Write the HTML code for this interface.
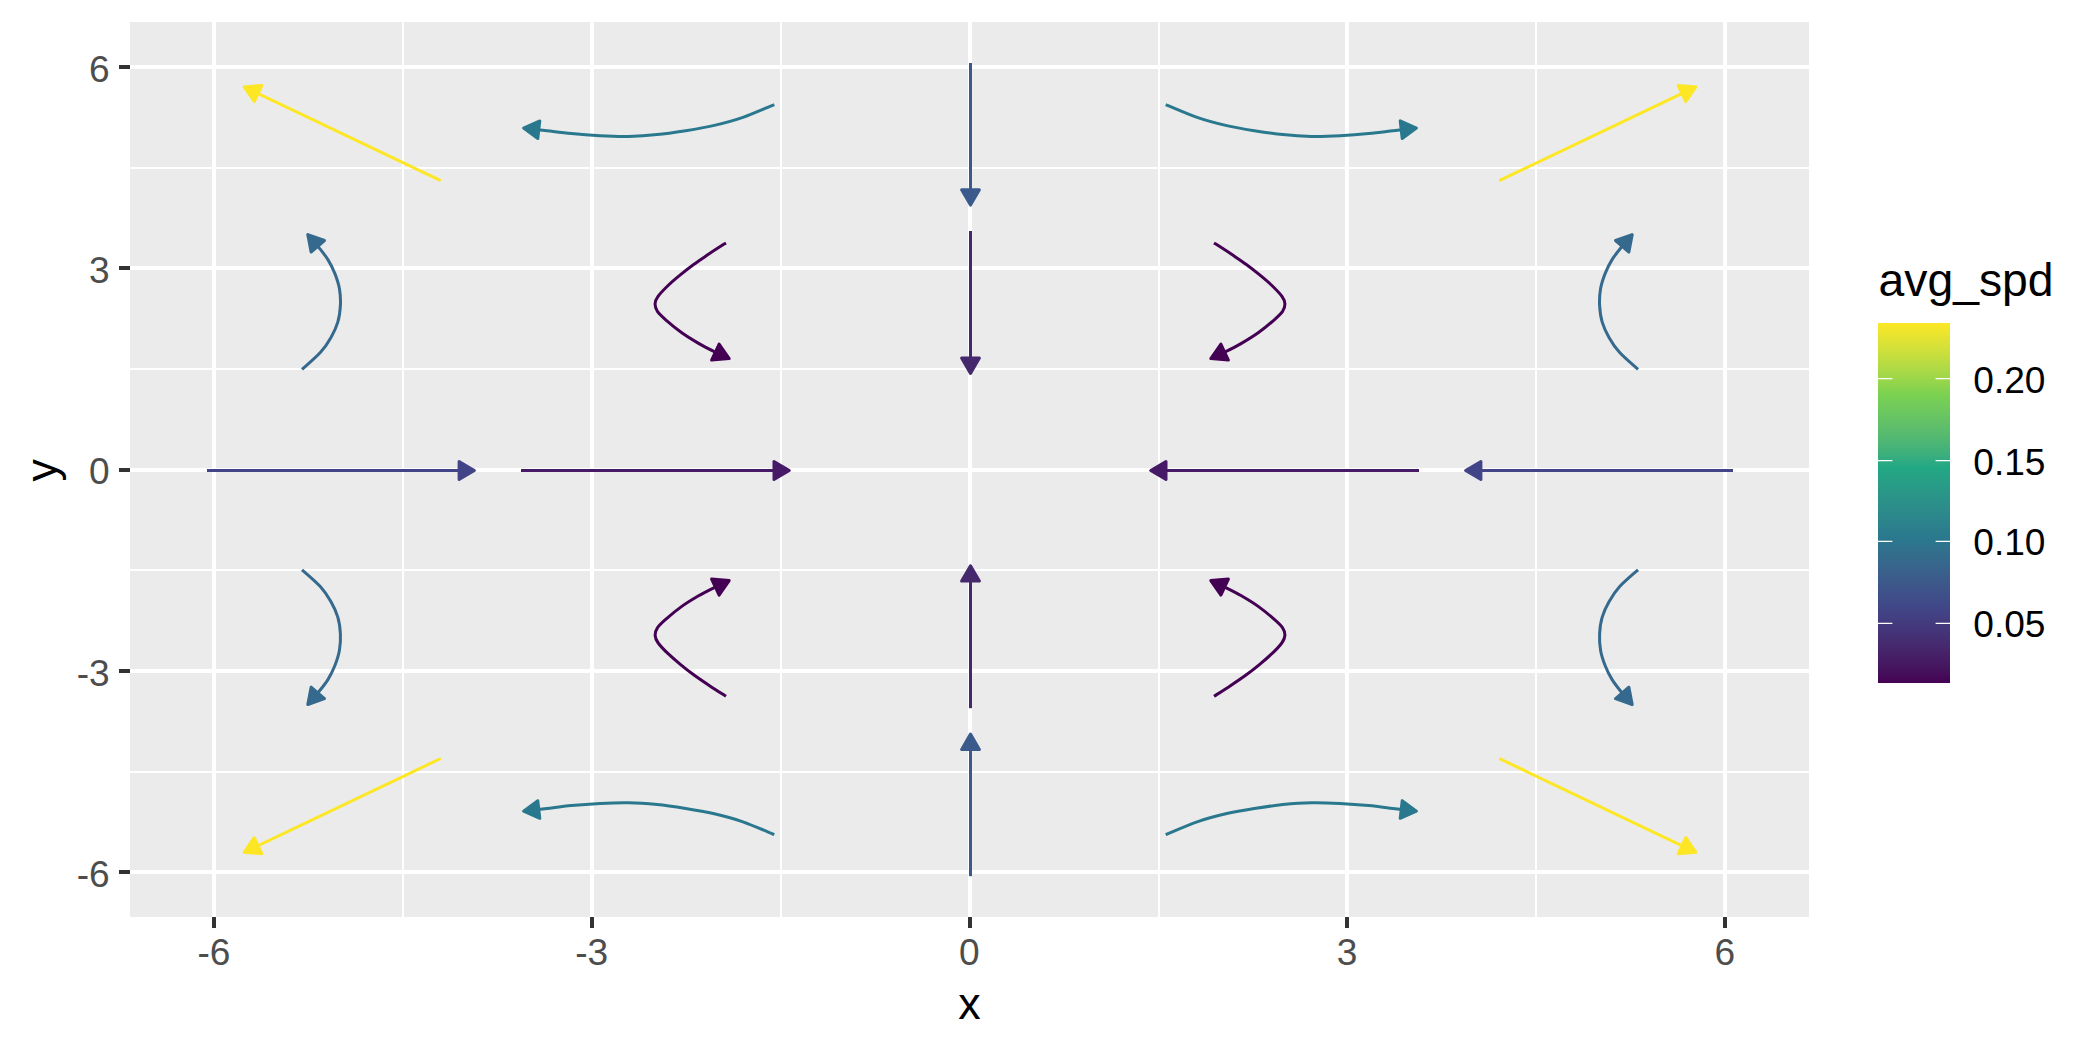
<!DOCTYPE html>
<html><head><meta charset="utf-8"><title>plot</title>
<style>html,body{margin:0;padding:0;background:#fff;}body{width:2100px;height:1050px;overflow:hidden;font-family:"Liberation Sans",Arial,sans-serif;}</style>
</head><body>
<svg width="2100" height="1050" viewBox="0 0 2100 1050" style="display:block">
<rect x="0" y="0" width="2100" height="1050" fill="#ffffff"/>
<rect x="130" y="22" width="1679.0" height="895.0" fill="#EBEBEB"/>
<g shape-rendering="crispEdges">
<rect x="402" y="22" width="2" height="895" fill="#fff"/>
<rect x="130" y="771" width="1679" height="2" fill="#fff"/>
<rect x="780" y="22" width="2" height="895" fill="#fff"/>
<rect x="130" y="569" width="1679" height="2" fill="#fff"/>
<rect x="1158" y="22" width="2" height="895" fill="#fff"/>
<rect x="130" y="368" width="1679" height="2" fill="#fff"/>
<rect x="1535" y="22" width="2" height="895" fill="#fff"/>
<rect x="130" y="167" width="1679" height="2" fill="#fff"/>
<rect x="212" y="22" width="4" height="895" fill="#fff"/>
<rect x="130" y="870" width="1679" height="4" fill="#fff"/>
<rect x="590" y="22" width="4" height="895" fill="#fff"/>
<rect x="130" y="669" width="1679" height="4" fill="#fff"/>
<rect x="968" y="22" width="4" height="895" fill="#fff"/>
<rect x="130" y="468" width="1679" height="4" fill="#fff"/>
<rect x="1345" y="22" width="4" height="895" fill="#fff"/>
<rect x="130" y="266" width="1679" height="4" fill="#fff"/>
<rect x="1723" y="22" width="4" height="895" fill="#fff"/>
<rect x="130" y="65" width="1679" height="4" fill="#fff"/>
<rect x="212" y="917" width="4" height="11" fill="#333"/>
<rect x="119" y="870" width="11" height="4" fill="#333"/>
<rect x="590" y="917" width="4" height="11" fill="#333"/>
<rect x="119" y="669" width="11" height="4" fill="#333"/>
<rect x="968" y="917" width="4" height="11" fill="#333"/>
<rect x="119" y="468" width="11" height="4" fill="#333"/>
<rect x="1345" y="917" width="4" height="11" fill="#333"/>
<rect x="119" y="266" width="11" height="4" fill="#333"/>
<rect x="1723" y="917" width="4" height="11" fill="#333"/>
<rect x="119" y="65" width="11" height="4" fill="#333"/>
</g>
<path d="M440.7 180.7L244.2 86.9" stroke="#FDE725" stroke-width="3.0" fill="none" stroke-linejoin="round"/><path d="M244.2 86.9L254.2 101.5L261.8 85.5Z" fill="#FDE725" stroke="#FDE725" stroke-width="3.0" stroke-linejoin="round"/>
<path d="M1499.3 180.7L1695.8 86.9" stroke="#FDE725" stroke-width="3.0" fill="none" stroke-linejoin="round"/><path d="M1695.8 86.9L1678.2 85.5L1685.8 101.5Z" fill="#FDE725" stroke="#FDE725" stroke-width="3.0" stroke-linejoin="round"/>
<path d="M440.7 758.5L244.2 852.3" stroke="#FDE725" stroke-width="3.0" fill="none" stroke-linejoin="round"/><path d="M244.2 852.3L261.8 853.7L254.2 837.7Z" fill="#FDE725" stroke="#FDE725" stroke-width="3.0" stroke-linejoin="round"/>
<path d="M1499.3 758.5L1695.8 852.3" stroke="#FDE725" stroke-width="3.0" fill="none" stroke-linejoin="round"/><path d="M1695.8 852.3L1685.8 837.7L1678.2 853.7Z" fill="#FDE725" stroke="#FDE725" stroke-width="3.0" stroke-linejoin="round"/>
<path d="M774.3 104.6C769.1 106.7 752.9 113.9 742.9 117.4C732.9 120.9 723.8 123.2 714.3 125.4C704.8 127.6 695.2 129.2 685.7 130.7C676.2 132.2 666.6 133.7 657.1 134.6C647.6 135.6 638.1 136.2 628.6 136.4C619.1 136.6 609.5 136.2 600.0 135.7C590.5 135.2 580.9 134.5 571.4 133.6C561.9 132.7 550.9 131.1 542.9 130.2C534.9 129.3 526.8 128.4 523.6 128.0" stroke="#2A788E" stroke-width="3.0" fill="none" stroke-linejoin="round"/><path d="M523.6 128.0L537.8 138.5L539.8 120.9Z" fill="#2A788E" stroke="#2A788E" stroke-width="3.0" stroke-linejoin="round"/>
<path d="M1165.7 104.6C1170.9 106.7 1187.1 113.9 1197.1 117.4C1207.1 120.9 1216.2 123.2 1225.7 125.4C1235.2 127.6 1244.8 129.2 1254.3 130.7C1263.8 132.2 1273.4 133.7 1282.9 134.6C1292.4 135.6 1301.9 136.2 1311.4 136.4C1320.9 136.6 1330.5 136.2 1340.0 135.7C1349.5 135.2 1359.1 134.5 1368.6 133.6C1378.1 132.7 1389.1 131.1 1397.1 130.2C1405.1 129.3 1413.2 128.4 1416.4 128.0" stroke="#2A788E" stroke-width="3.0" fill="none" stroke-linejoin="round"/><path d="M1416.4 128.0L1400.2 120.9L1402.2 138.5Z" fill="#2A788E" stroke="#2A788E" stroke-width="3.0" stroke-linejoin="round"/>
<path d="M774.3 834.6C769.1 832.5 752.9 825.3 742.9 821.8C732.9 818.3 723.8 816.0 714.3 813.8C704.8 811.6 695.2 810.0 685.7 808.5C676.2 807.0 666.6 805.5 657.1 804.6C647.6 803.7 638.1 803.0 628.6 802.8C619.1 802.6 609.5 803.0 600.0 803.5C590.5 804.0 580.9 804.7 571.4 805.6C561.9 806.5 550.9 808.1 542.9 809.0C534.9 809.9 526.8 810.8 523.6 811.2" stroke="#2A788E" stroke-width="3.0" fill="none" stroke-linejoin="round"/><path d="M523.6 811.2L539.8 818.3L537.8 800.7Z" fill="#2A788E" stroke="#2A788E" stroke-width="3.0" stroke-linejoin="round"/>
<path d="M1165.7 834.6C1170.9 832.5 1187.1 825.3 1197.1 821.8C1207.1 818.3 1216.2 816.0 1225.7 813.8C1235.2 811.6 1244.8 810.0 1254.3 808.5C1263.8 807.0 1273.4 805.5 1282.9 804.6C1292.4 803.7 1301.9 803.0 1311.4 802.8C1320.9 802.6 1330.5 803.0 1340.0 803.5C1349.5 804.0 1359.1 804.7 1368.6 805.6C1378.1 806.5 1389.1 808.1 1397.1 809.0C1405.1 809.9 1413.2 810.8 1416.4 811.2" stroke="#2A788E" stroke-width="3.0" fill="none" stroke-linejoin="round"/><path d="M1416.4 811.2L1402.2 800.7L1400.2 818.3Z" fill="#2A788E" stroke="#2A788E" stroke-width="3.0" stroke-linejoin="round"/>
<path d="M302.0 369.4C305.1 366.6 315.5 357.9 320.3 352.6C325.1 347.3 328.1 342.5 331.0 337.4C333.9 332.3 336.2 327.4 337.8 322.1C339.4 316.8 340.1 311.0 340.4 305.4C340.7 299.8 340.3 293.9 339.4 288.6C338.5 283.3 336.7 278.2 334.8 273.4C332.9 268.6 330.6 263.9 327.9 259.6C325.2 255.3 322.1 251.6 318.8 247.4C315.4 243.2 309.6 236.7 307.8 234.6" stroke="#35698D" stroke-width="3.0" fill="none" stroke-linejoin="round"/><path d="M307.8 234.6L311.1 252.0L324.5 240.5Z" fill="#35698D" stroke="#35698D" stroke-width="3.0" stroke-linejoin="round"/>
<path d="M1638.0 369.4C1635.0 366.6 1624.5 357.9 1619.7 352.6C1614.9 347.3 1611.9 342.5 1609.0 337.4C1606.1 332.3 1603.8 327.4 1602.2 322.1C1600.6 316.8 1599.9 311.0 1599.6 305.4C1599.3 299.8 1599.7 293.9 1600.6 288.6C1601.5 283.3 1603.3 278.2 1605.2 273.4C1607.1 268.6 1609.4 263.9 1612.1 259.6C1614.8 255.3 1617.8 251.6 1621.2 247.4C1624.6 243.2 1630.4 236.7 1632.2 234.6" stroke="#35698D" stroke-width="3.0" fill="none" stroke-linejoin="round"/><path d="M1632.2 234.6L1615.5 240.5L1628.9 252.0Z" fill="#35698D" stroke="#35698D" stroke-width="3.0" stroke-linejoin="round"/>
<path d="M302.0 569.8C305.1 572.6 315.5 581.3 320.3 586.6C325.1 591.9 328.1 596.7 331.0 601.8C333.9 606.9 336.2 611.8 337.8 617.1C339.4 622.4 340.1 628.2 340.4 633.8C340.7 639.4 340.3 645.3 339.4 650.6C338.5 655.9 336.7 661.0 334.8 665.8C332.9 670.6 330.6 675.3 327.9 679.6C325.2 683.9 322.1 687.6 318.8 691.8C315.4 696.0 309.6 702.5 307.8 704.6" stroke="#35698D" stroke-width="3.0" fill="none" stroke-linejoin="round"/><path d="M307.8 704.6L324.5 698.7L311.1 687.2Z" fill="#35698D" stroke="#35698D" stroke-width="3.0" stroke-linejoin="round"/>
<path d="M1638.0 569.8C1635.0 572.6 1624.5 581.3 1619.7 586.6C1614.9 591.9 1611.9 596.7 1609.0 601.8C1606.1 606.9 1603.8 611.8 1602.2 617.1C1600.6 622.4 1599.9 628.2 1599.6 633.8C1599.3 639.4 1599.7 645.3 1600.6 650.6C1601.5 655.9 1603.3 661.0 1605.2 665.8C1607.1 670.6 1609.4 675.3 1612.1 679.6C1614.8 683.9 1617.8 687.6 1621.2 691.8C1624.6 696.0 1630.4 702.5 1632.2 704.6" stroke="#35698D" stroke-width="3.0" fill="none" stroke-linejoin="round"/><path d="M1632.2 704.6L1628.9 687.2L1615.5 698.7Z" fill="#35698D" stroke="#35698D" stroke-width="3.0" stroke-linejoin="round"/>
<path d="M726.0 242.9C723.2 244.7 714.5 250.2 709.2 253.8C703.9 257.4 698.8 260.7 694.0 264.2C689.2 267.7 684.6 271.3 680.3 274.9C676.0 278.4 671.8 281.9 668.1 285.5C664.4 289.1 660.4 293.1 658.2 296.2C656.0 299.2 655.2 301.3 655.1 303.8C655.0 306.3 655.5 308.6 657.4 311.4C659.3 314.2 662.5 317.0 666.6 320.6C670.7 324.2 676.5 329.0 681.8 332.8C687.1 336.6 693.3 340.3 698.6 343.4C703.9 346.5 708.7 348.9 713.8 351.4C718.9 353.9 726.6 357.4 729.2 358.6" stroke="#440154" stroke-width="3.0" fill="none" stroke-linejoin="round"/><path d="M729.2 358.6L719.1 344.1L711.6 360.1Z" fill="#440154" stroke="#440154" stroke-width="3.0" stroke-linejoin="round"/>
<path d="M1214.0 242.9C1216.8 244.7 1225.5 250.2 1230.8 253.8C1236.1 257.4 1241.2 260.7 1246.0 264.2C1250.8 267.7 1255.4 271.3 1259.7 274.9C1264.0 278.4 1268.2 281.9 1271.9 285.5C1275.6 289.1 1279.6 293.1 1281.8 296.2C1284.0 299.2 1284.8 301.3 1284.9 303.8C1285.0 306.3 1284.5 308.6 1282.6 311.4C1280.7 314.2 1277.5 317.0 1273.4 320.6C1269.3 324.2 1263.5 329.0 1258.2 332.8C1252.9 336.6 1246.7 340.3 1241.4 343.4C1236.1 346.5 1231.3 348.9 1226.2 351.4C1221.1 353.9 1213.4 357.4 1210.8 358.6" stroke="#440154" stroke-width="3.0" fill="none" stroke-linejoin="round"/><path d="M1210.8 358.6L1228.4 360.1L1220.9 344.1Z" fill="#440154" stroke="#440154" stroke-width="3.0" stroke-linejoin="round"/>
<path d="M726.0 696.3C723.2 694.5 714.5 689.0 709.2 685.4C703.9 681.9 698.8 678.5 694.0 675.0C689.2 671.5 684.6 667.9 680.3 664.3C676.0 660.8 671.8 657.2 668.1 653.7C664.4 650.2 660.4 646.0 658.2 643.0C656.0 640.0 655.2 637.9 655.1 635.4C655.0 632.9 655.5 630.6 657.4 627.8C659.3 625.0 662.5 622.2 666.6 618.6C670.7 615.0 676.5 610.2 681.8 606.4C687.1 602.6 693.3 598.9 698.6 595.8C703.9 592.7 708.7 590.3 713.8 587.8C718.9 585.3 726.6 581.8 729.2 580.6" stroke="#440154" stroke-width="3.0" fill="none" stroke-linejoin="round"/><path d="M729.2 580.6L711.6 579.1L719.1 595.1Z" fill="#440154" stroke="#440154" stroke-width="3.0" stroke-linejoin="round"/>
<path d="M1214.0 696.3C1216.8 694.5 1225.5 689.0 1230.8 685.4C1236.1 681.9 1241.2 678.5 1246.0 675.0C1250.8 671.5 1255.4 667.9 1259.7 664.3C1264.0 660.8 1268.2 657.2 1271.9 653.7C1275.6 650.2 1279.6 646.0 1281.8 643.0C1284.0 640.0 1284.8 637.9 1284.9 635.4C1285.0 632.9 1284.5 630.6 1282.6 627.8C1280.7 625.0 1277.5 622.2 1273.4 618.6C1269.3 615.0 1263.5 610.2 1258.2 606.4C1252.9 602.6 1246.7 598.9 1241.4 595.8C1236.1 592.7 1231.3 590.3 1226.2 587.8C1221.1 585.3 1213.4 581.8 1210.8 580.6" stroke="#440154" stroke-width="3.0" fill="none" stroke-linejoin="round"/><path d="M1210.8 580.6L1220.9 595.1L1228.4 579.1Z" fill="#440154" stroke="#440154" stroke-width="3.0" stroke-linejoin="round"/>
<path d="M207.0 470.5L474.4 470.5" stroke="#414487" stroke-width="3.0" fill="none" stroke-linejoin="round"/><path d="M474.4 470.5L459.1 461.6L459.1 479.4Z" fill="#414487" stroke="#414487" stroke-width="3.0" stroke-linejoin="round"/>
<path d="M1733.0 470.5L1465.6 470.5" stroke="#414487" stroke-width="3.0" fill="none" stroke-linejoin="round"/><path d="M1465.6 470.5L1480.9 479.4L1480.9 461.6Z" fill="#414487" stroke="#414487" stroke-width="3.0" stroke-linejoin="round"/>
<path d="M521.0 470.5L789.3 470.5" stroke="#461A66" stroke-width="3.0" fill="none" stroke-linejoin="round"/><path d="M789.3 470.5L774.0 461.6L774.0 479.4Z" fill="#461A66" stroke="#461A66" stroke-width="3.0" stroke-linejoin="round"/>
<path d="M1419.0 470.5L1150.7 470.5" stroke="#461A66" stroke-width="3.0" fill="none" stroke-linejoin="round"/><path d="M1150.7 470.5L1166.0 479.4L1166.0 461.6Z" fill="#461A66" stroke="#461A66" stroke-width="3.0" stroke-linejoin="round"/>
<path d="M970.5 63.0L970.5 205.1" stroke="#3B5A8C" stroke-width="3.0" fill="none" stroke-linejoin="round"/><path d="M970.5 205.1L979.4 189.8L961.6 189.8Z" fill="#3B5A8C" stroke="#3B5A8C" stroke-width="3.0" stroke-linejoin="round"/>
<path d="M970.5 876.2L970.5 734.1" stroke="#3B5A8C" stroke-width="3.0" fill="none" stroke-linejoin="round"/><path d="M970.5 734.1L961.6 749.4L979.4 749.4Z" fill="#3B5A8C" stroke="#3B5A8C" stroke-width="3.0" stroke-linejoin="round"/>
<path d="M970.5 231.0L970.5 373.4" stroke="#46286C" stroke-width="3.0" fill="none" stroke-linejoin="round"/><path d="M970.5 373.4L979.4 358.1L961.6 358.1Z" fill="#46286C" stroke="#46286C" stroke-width="3.0" stroke-linejoin="round"/>
<path d="M970.5 708.2L970.5 565.8" stroke="#46286C" stroke-width="3.0" fill="none" stroke-linejoin="round"/><path d="M970.5 565.8L961.6 581.1L979.4 581.1Z" fill="#46286C" stroke="#46286C" stroke-width="3.0" stroke-linejoin="round"/>
<text x="214.0" y="965.3" text-anchor="middle" font-family="Liberation Sans, Arial, sans-serif" font-size="37.1" fill="#4D4D4D">-6</text>
<text x="109.6" y="886.8" text-anchor="end" font-family="Liberation Sans, Arial, sans-serif" font-size="37.1" fill="#4D4D4D">-6</text>
<text x="591.7" y="965.3" text-anchor="middle" font-family="Liberation Sans, Arial, sans-serif" font-size="37.1" fill="#4D4D4D">-3</text>
<text x="109.6" y="685.5" text-anchor="end" font-family="Liberation Sans, Arial, sans-serif" font-size="37.1" fill="#4D4D4D">-3</text>
<text x="969.4" y="965.3" text-anchor="middle" font-family="Liberation Sans, Arial, sans-serif" font-size="37.1" fill="#4D4D4D">0</text>
<text x="109.6" y="484.3" text-anchor="end" font-family="Liberation Sans, Arial, sans-serif" font-size="37.1" fill="#4D4D4D">0</text>
<text x="1347.1" y="965.3" text-anchor="middle" font-family="Liberation Sans, Arial, sans-serif" font-size="37.1" fill="#4D4D4D">3</text>
<text x="109.6" y="283.1" text-anchor="end" font-family="Liberation Sans, Arial, sans-serif" font-size="37.1" fill="#4D4D4D">3</text>
<text x="1724.8" y="965.3" text-anchor="middle" font-family="Liberation Sans, Arial, sans-serif" font-size="37.1" fill="#4D4D4D">6</text>
<text x="109.6" y="81.8" text-anchor="end" font-family="Liberation Sans, Arial, sans-serif" font-size="37.1" fill="#4D4D4D">6</text>
<text x="969.5" y="1019.3" text-anchor="middle" font-family="Liberation Sans, Arial, sans-serif" font-size="44.8" fill="#000">x</text>
<text transform="translate(57.3,470.2) rotate(-90)" text-anchor="middle" font-family="Liberation Sans, Arial, sans-serif" font-size="44.8" fill="#000">y</text>
<text x="1878.5" y="295.7" font-family="Liberation Sans, Arial, sans-serif" font-size="46.3" fill="#000">avg_spd</text>
<defs><linearGradient id="vg" x1="0" y1="1" x2="0" y2="0"><stop offset="0.0000" stop-color="#440154"/><stop offset="0.0250" stop-color="#450E5A"/><stop offset="0.0500" stop-color="#451860"/><stop offset="0.0750" stop-color="#462067"/><stop offset="0.1000" stop-color="#46286D"/><stop offset="0.1250" stop-color="#452F73"/><stop offset="0.1500" stop-color="#44367A"/><stop offset="0.1750" stop-color="#433D80"/><stop offset="0.2000" stop-color="#414487"/><stop offset="0.2250" stop-color="#404B88"/><stop offset="0.2500" stop-color="#3F5189"/><stop offset="0.2750" stop-color="#3D588A"/><stop offset="0.3000" stop-color="#3B5E8B"/><stop offset="0.3250" stop-color="#38658C"/><stop offset="0.3500" stop-color="#346B8C"/><stop offset="0.3750" stop-color="#30728D"/><stop offset="0.4000" stop-color="#2A788E"/><stop offset="0.4250" stop-color="#2B7E8D"/><stop offset="0.4500" stop-color="#2C848C"/><stop offset="0.4750" stop-color="#2C8A8B"/><stop offset="0.5000" stop-color="#2B9089"/><stop offset="0.5250" stop-color="#2A9688"/><stop offset="0.5500" stop-color="#289C87"/><stop offset="0.5750" stop-color="#26A285"/><stop offset="0.6000" stop-color="#22A884"/><stop offset="0.6250" stop-color="#36AD7F"/><stop offset="0.6500" stop-color="#44B279"/><stop offset="0.6750" stop-color="#50B773"/><stop offset="0.7000" stop-color="#5ABC6D"/><stop offset="0.7250" stop-color="#63C167"/><stop offset="0.7500" stop-color="#6BC760"/><stop offset="0.7750" stop-color="#73CC59"/><stop offset="0.8000" stop-color="#7AD151"/><stop offset="0.8250" stop-color="#8DD44D"/><stop offset="0.8500" stop-color="#9FD749"/><stop offset="0.8750" stop-color="#B0DA45"/><stop offset="0.9000" stop-color="#C0DD40"/><stop offset="0.9250" stop-color="#D0E03A"/><stop offset="0.9500" stop-color="#DFE234"/><stop offset="0.9750" stop-color="#EEE52D"/><stop offset="1.0000" stop-color="#FDE725"/></linearGradient></defs>
<rect x="1878" y="323" width="72" height="360" fill="url(#vg)"/>
<text x="1973.3" y="392.5" font-family="Liberation Sans, Arial, sans-serif" font-size="37.1" fill="#000">0.20</text>
<text x="1973.3" y="474.5" font-family="Liberation Sans, Arial, sans-serif" font-size="37.1" fill="#000">0.15</text>
<text x="1973.3" y="555.1" font-family="Liberation Sans, Arial, sans-serif" font-size="37.1" fill="#000">0.10</text>
<text x="1973.3" y="637.2" font-family="Liberation Sans, Arial, sans-serif" font-size="37.1" fill="#000">0.05</text>
<path d="M1878 378.7h14.4M1950 378.7h-14.4M1878 460.7h14.4M1950 460.7h-14.4M1878 541.3h14.4M1950 541.3h-14.4M1878 623.4h14.4M1950 623.4h-14.4" stroke="#fff" stroke-width="1.25" fill="none"/>
</svg>
</body></html>
